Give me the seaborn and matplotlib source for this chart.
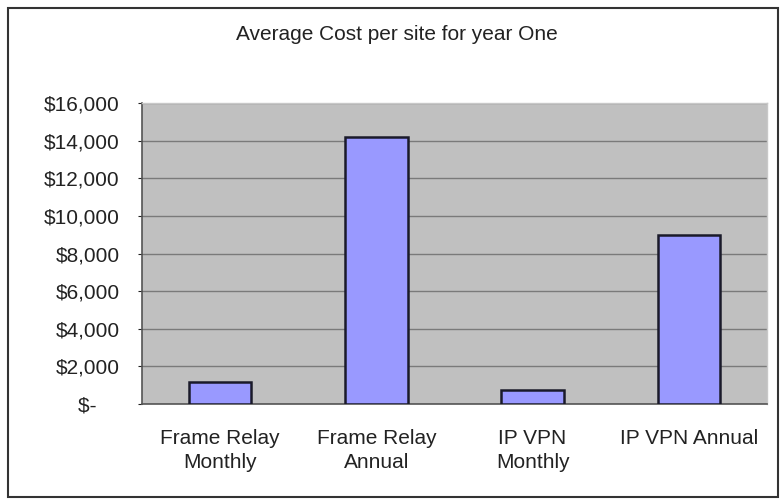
import matplotlib
matplotlib.use("Agg")
import matplotlib.pyplot as plt
import seaborn as sns
import pandas as pd
from matplotlib.patches import Rectangle
from matplotlib.ticker import FuncFormatter

categories = ["Frame Relay\nMonthly", "Frame Relay\nAnnual", "IP VPN\nMonthly", "IP VPN Annual"]
costs = [1183, 14200, 750, 9000]
title = "Average Cost per site for year One"

df = pd.DataFrame({"category": categories, "cost": costs})

sns.set_theme(style="white")
plt.rcParams["font.family"] = ["Liberation Sans", "DejaVu Sans"]

fig = plt.figure(figsize=(7.81, 5.01), dpi=100)
ax = fig.add_axes([142 / 781, 97 / 501, 625 / 781, 301 / 501])
ax.set_facecolor("#c0c0c0")

sns.barplot(data=df, x="category", y="cost", color="#9999ff", saturation=1,
            width=0.4, edgecolor="#1a1a2a", linewidth=1.8, ax=ax, zorder=3)

ax.set_ylim(0, 16000)
ax.set_yticks(range(0, 16001, 2000))


def money(v, pos):
    # accounting style: the dash for zero sits left of the number column
    if v == 0:
        return "$-    "
    return "${:,.0f}".format(v)


ax.yaxis.set_major_formatter(FuncFormatter(money))
ax.yaxis.grid(True, color="#7a7a7a", linewidth=1.0, zorder=0)
ax.set_axisbelow(True)
ax.set_xlabel("")
ax.set_ylabel("")

for s in ["left", "bottom"]:
    ax.spines[s].set_color("#555555")
    ax.spines[s].set_linewidth(1.2)
for s in ["top", "right"]:
    ax.spines[s].set_color("#c8c8c8")
    ax.spines[s].set_linewidth(1.0)

ax.tick_params(axis="y", labelsize=15, colors="#222222", length=3, width=0.8, direction="out", left=True, pad=13)
ax.tick_params(axis="x", labelsize=15, colors="#222222", length=0, pad=18)
for lbl in ax.get_xticklabels():
    lbl.set_linespacing(1.3)

fig.text(397 / 781, 1 - 35 / 501, title, ha="center", va="center", fontsize=15, color="#222222")

fig.patches.append(Rectangle((8 / 781, 4 / 501), 770 / 781, 489 / 501, transform=fig.transFigure,
                             fill=False, edgecolor="#333333", linewidth=1.5))

fig.savefig("out.png", dpi=100)
